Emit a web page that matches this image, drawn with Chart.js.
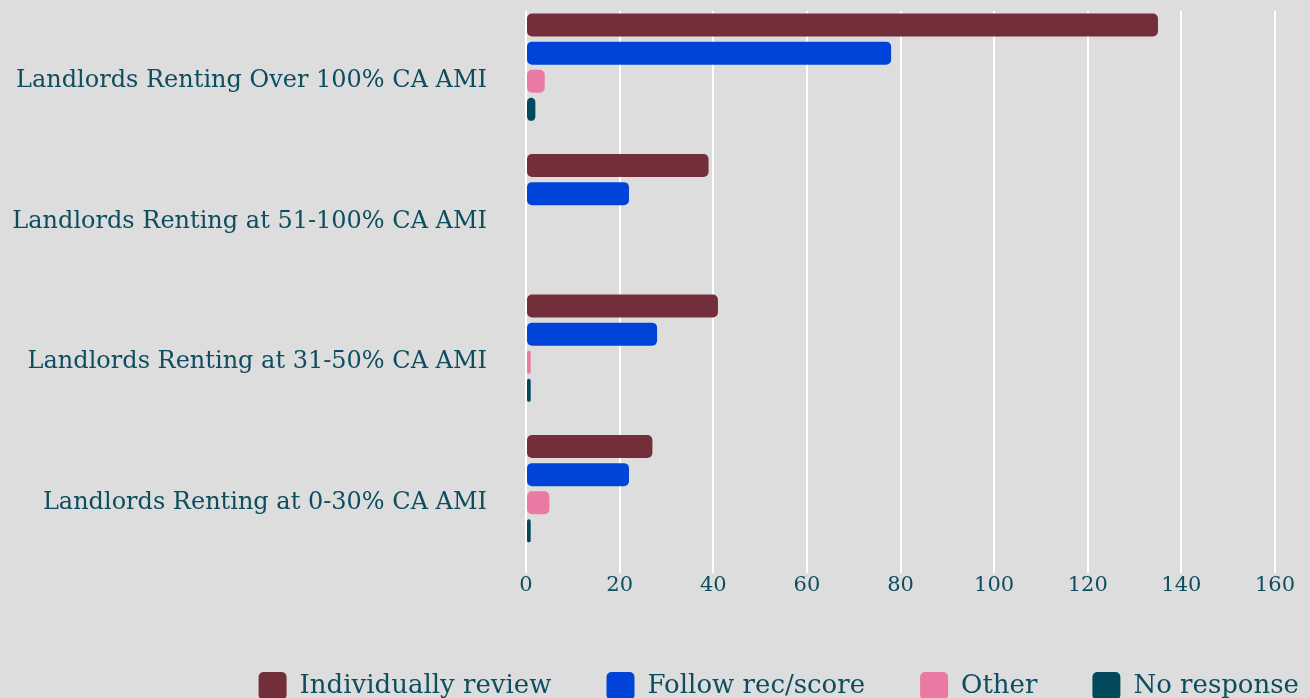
<!DOCTYPE html>
<html>
<head>
<meta charset="utf-8">
<script src="https://cdn.jsdelivr.net/npm/chart.js@4/dist/chart.umd.min.js"></script>
<style>
  html, body { margin: 0; padding: 0; background: #dddddd; overflow: hidden; }
  #wrap { position: relative; width: 1310px; height: 710px; }
</style>
</head>
<body>
<div id="wrap"><canvas id="chart"></canvas></div>
<script>
const categories = [
  'Landlords Renting Over 100% CA AMI',
  'Landlords Renting at 51-100% CA AMI',
  'Landlords Renting at 31-50% CA AMI',
  'Landlords Renting at 0-30% CA AMI'
];
const individuallyReview = [135, 39, 41, 27];
const followRecScore = [78, 22, 28, 22];
const other = [4, 0, 1, 5];
const noResponse = [2, 0, 1, 1];
const xTicks = [0, 20, 40, 60, 80, 100, 120, 140, 160];

const textColor = '#0d4d60';
const serif = "'DejaVu Serif', serif";

const ctx = document.getElementById('chart').getContext('2d');
new Chart(ctx, {
  type: 'bar',
  data: {
    labels: categories,
    datasets: [
      { label: 'Individually review', data: individuallyReview, backgroundColor: '#722f39' },
      { label: 'Follow rec/score', data: followRecScore, backgroundColor: '#0043d8' },
      { label: 'Other', data: other, backgroundColor: '#ea7aa4' },
      { label: 'No response', data: noResponse, backgroundColor: '#03495c' },
      // empty slot the original keeps in every group
      { label: '', data: [], backgroundColor: 'rgba(0,0,0,0)' }
    ]
  },
  options: {
    indexAxis: 'y',
    responsive: true,
    maintainAspectRatio: false,
    animation: false,
    categoryPercentage: 1,
    barPercentage: 0.82,
    borderRadius: 5,
    borderSkipped: false,
    // negative right padding lets the legend row run to the canvas edge
    layout: { padding: { top: 11, right: -44, left: 0, bottom: 0 } },
    scales: {
      x: {
        min: 0,
        max: 160,
        afterBuildTicks: s => { s.ticks = xTicks.map(v => ({ value: v })); },
        afterFit: s => { s.height = 44; s.paddingRight = 35; },
        grid: { color: '#ffffff', lineWidth: 2, drawTicks: false },
        border: { display: false },
        ticks: { color: textColor, padding: 0, font: { family: serif, size: 21 } }
      },
      y: {
        afterFit: s => { s.width = 526; s.paddingTop = 0; s.paddingBottom = 0; },
        grid: { display: false, drawTicks: false },
        border: { display: false },
        ticks: { color: textColor, padding: 39, font: { family: serif, size: 24 } }
      }
    },
    plugins: {
      tooltip: { enabled: false },
      legend: {
        position: 'bottom',
        align: 'end',
        labels: {
          filter: item => item.text !== '',
          color: textColor,
          boxWidth: 28,
          boxHeight: 28,
          padding: 55,
          useBorderRadius: true,
          borderRadius: 5,
          font: { family: serif, size: 26 }
        }
      }
    }
  }
});
</script>
</body>
</html>
